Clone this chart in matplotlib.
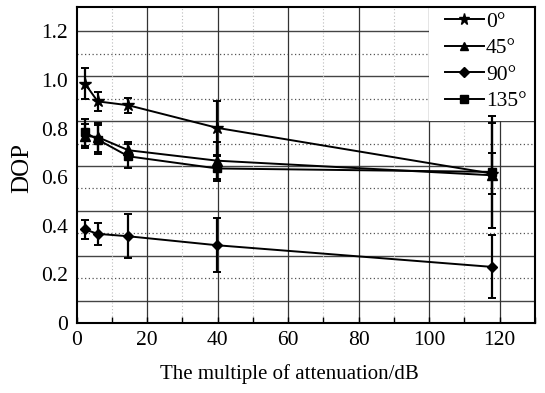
import numpy as np
import matplotlib
matplotlib.use("Agg")
import matplotlib.pyplot as plt
from matplotlib.patches import Rectangle
from matplotlib.lines import Line2D

plt.rcParams['font.family'] = ['Liberation Serif', 'DejaVu Serif']

# ---- data ----
x_att = [2.4, 6.0, 14.7, 39.9, 117.8]
labels = ['0°', '45°', '90°', '135°']
dop_0 = [0.985, 0.912, 0.896, 0.803, 0.615]
err_0 = [0.063, 0.040, 0.030, 0.110, 0.085]
dop_45 = [0.770, 0.765, 0.711, 0.668, 0.608]
err_45 = [0.050, 0.060, 0.032, 0.075, 0.215]
dop_90 = [0.385, 0.367, 0.357, 0.320, 0.231]
err_90 = [0.038, 0.045, 0.090, 0.112, 0.130]
dop_135 = [0.785, 0.755, 0.686, 0.636, 0.622]
err_135 = [0.055, 0.060, 0.050, 0.050, 0.230]
x_ticks = [0, 20, 40, 60, 80, 100, 120]
y_ticks = [0, 0.2, 0.4, 0.6, 0.8, 1.0, 1.2]
y_ticklabels = ['0', '0.2', '0.4', '0.6', '0.8', '1.0', '1.2']

series = [(dop_0, err_0, '*', 9), (dop_45, err_45, '^', 6.5),
          (dop_90, err_90, 'D', 5.5), (dop_135, err_135, 's', 6)]

fig = plt.figure(figsize=(5.45, 3.93), dpi=100)
ax = fig.add_axes([0.1404, 0.178, 0.8413, 0.804])
ax.set_xlim(0, 130)
ax.set_ylim(0, 1.3)

# grid (horizontal lines are spaced independent of tick labels in the original)
hgrid = np.linspace(0, 1.2, 14)[1:]
for i, yv in enumerate(hgrid, start=1):
    if i % 2 == 1:
        ax.axhline(yv, color='#444444', lw=1.0, zorder=1)
    else:
        ax.axhline(yv, color='#555555', lw=0.9, ls=(0, (1, 2)), zorder=1)
for xv in range(20, 121, 20):
    ax.axvline(xv, color='#333333', lw=0.9, zorder=1)
for xv in range(10, 121, 20):
    ax.axvline(xv, color='#bbbbbb', lw=0.8, ls=(0, (1, 2)), zorder=1)

# white legend area
ax.add_patch(Rectangle((100, 0.83), 30, 0.47, facecolor='white',
                       edgecolor='none', zorder=1.5))

handles = []
for (yv, ev, mk, ms), lab in zip(series, labels):
    ax.errorbar(x_att, yv, yerr=ev, color='black', lw=1.4, elinewidth=1.6,
                capsize=3, capthick=1.4, marker=mk, markersize=ms,
                markerfacecolor='black', markeredgecolor='black', zorder=3)
    handles.append(Line2D([], [], color='black', lw=1.4, marker=mk,
                          markersize=ms * 0.9, label=lab))

leg = ax.legend(handles=handles, loc='upper right', frameon=False,
                fontsize=15.5, handlelength=1.8, handletextpad=0.1,
                labelspacing=0.3, borderaxespad=0.0,
                bbox_to_anchor=(1.0, 1.013))
leg.set_zorder(5)

ax.set_xticks(x_ticks)
ax.set_xticks(range(10, 131, 20), minor=True)
ax.set_yticks(y_ticks)
ax.set_yticklabels(y_ticklabels)
ax.tick_params(axis='both', which='both', direction='in', labelsize=15.5,
               color='black')
ax.tick_params(axis='x', which='major', length=4, width=1, pad=6)
ax.tick_params(axis='x', which='minor', length=4, width=1)
ax.tick_params(axis='y', which='major', length=0, pad=6)
for sp in ax.spines.values():
    sp.set_linewidth(1.5)
    sp.set_color('black')
    sp.set_zorder(6)

ax.set_xlabel('The multiple of attenuation/dB', fontsize=15)
ax.xaxis.set_label_coords(0.465, -0.13)
ax.set_ylabel('DOP', fontsize=18)
ax.yaxis.set_label_coords(-0.095, 0.49)

fig.savefig('out.png', dpi=100)
